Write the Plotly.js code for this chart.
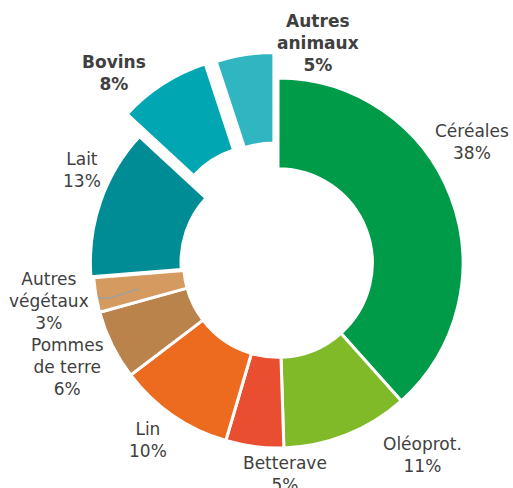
<!DOCTYPE html>
<html>
<head>
<meta charset="utf-8">
<script src="https://cdn.plot.ly/plotly-3.0.1.min.js"></script>
<style>html,body{margin:0;padding:0;background:#fff;}#chart{width:513px;height:488px;}</style>
</head>
<body>
<div id="chart"></div>
<script>
// Data
var categories = ["Céréales", "Oléoprot.", "Betterave", "Lin", "Pommes de terre", "Autres végétaux", "Lait", "Bovins", "Autres animaux"];
var shownLabels = ["Céréales", "Oléoprot.", "Betterave", "Lin", "Pommes<br>de terre", "Autres<br>végétaux", "Lait", "Bovins", "Autres<br>animaux"];
var shares = [38, 11, 5, 10, 6, 3, 13, 8, 5];
var boldLabel = [false, false, false, false, false, false, false, true, true];

// Styles
var colors = ["#009B48", "#80BA28", "#E84E2F", "#EC6B1E", "#BA834B", "#D49A5F", "#008C95", "#00A7B3", "#30B6C1"];
var pulls = [0, 0, 0, 0, 0, 0, 0.015, 0.15, 0.14];
// label block centres, in pixels of the 513x488 page
var labelPos = [[472, 142], [422, 455], [285, 474], [148, 440], [67, 367], [49, 301], [82, 170], [114, 73], [318, 43]];

var W = 513, H = 488;
var annotations = categories.map(function (c, i) {
  var t = shownLabels[i] + "<br>" + shares[i] + "%";
  if (boldLabel[i]) t = "<b>" + shownLabels[i] + "<br>" + shares[i] + "%</b>";
  return {
    text: t, showarrow: false, xref: "paper", yref: "paper",
    x: labelPos[i][0] / W, y: 1 - labelPos[i][1] / H,
    xanchor: "center", yanchor: "middle", align: "center",
    font: {family: "DejaVu Sans, Verdana, sans-serif", size: 17, color: "#404040"}
  };
});

var trace = {
  type: "pie",
  labels: categories,
  values: shares,
  sort: false,
  direction: "clockwise",
  rotation: 0,
  hole: 0.51,
  pull: pulls,
  textinfo: "none",
  hoverinfo: "label+percent",
  marker: {colors: colors, line: {color: "#ffffff", width: 3}},
  domain: {x: [0.1272, 0.9566], y: [0.0251, 0.8970]},
  showlegend: false
};

var layout = {
  width: W, height: H,
  margin: {l: 0, r: 0, t: 0, b: 0},
  paper_bgcolor: "#ffffff",
  plot_bgcolor: "#ffffff",
  showlegend: false,
  annotations: annotations,
  shapes: [{
    type: "path", xref: "paper", yref: "paper",
    path: "M " + (98 / W) + "," + (1 - 298 / H) + " L " + (110 / W) + "," + (1 - 298 / H) + " L " + (139 / W) + "," + (1 - 289 / H),
    line: {color: "#A0A0A0", width: 1.5}
  }]
};

Plotly.newPlot("chart", [trace], layout, {displayModeBar: false, staticPlot: true});
</script>
</body>
</html>
